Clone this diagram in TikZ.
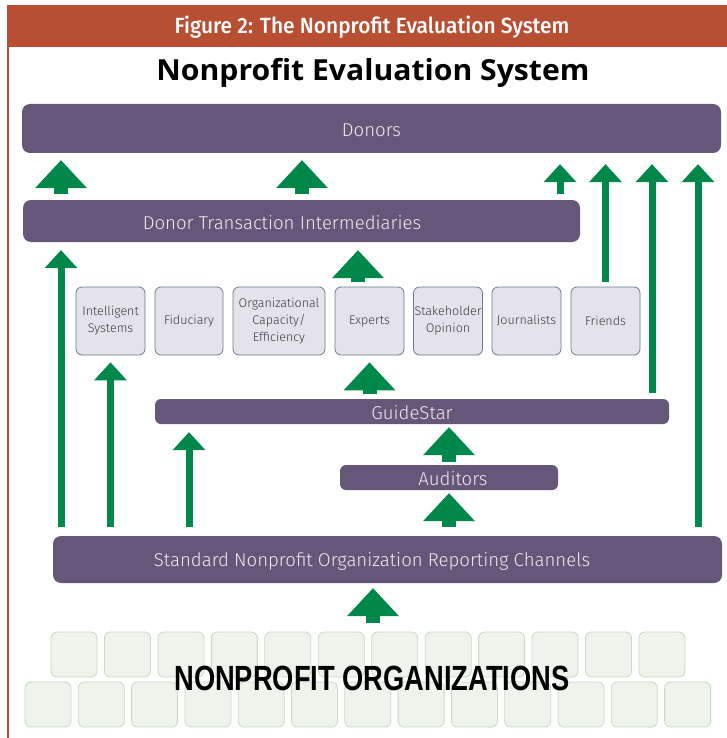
\documentclass[tikz,border=0pt]{standalone}
\usepackage{fontspec}
\setmainfont{Fira Sans}
\newfontfamily\lightfont{Fira Sans}[UprightFont=* Light]
\newfontfamily\medfont{Fira Sans}[UprightFont=* Medium]
\newfontfamily\titlefont{Open Sans}
\newfontfamily\orgfont{Liberation Sans}
\usetikzlibrary{arrows.meta}

\definecolor{bandcol}{HTML}{B84F32}
\definecolor{barcol}{HTML}{65567A}
\definecolor{bartext}{HTML}{ECEAF0}
\definecolor{boxfill}{HTML}{E4E3EA}
\definecolor{boxline}{HTML}{6A7A95}
\definecolor{boxtext}{HTML}{3A3A3A}
\definecolor{arrowgreen}{HTML}{00884A}
\definecolor{orgfill}{HTML}{EEF3EC}
\definecolor{orgline}{HTML}{C3DCC0}

\tikzset{
  bar/.style={fill=barcol, rounded corners=8pt, inner sep=0pt},
  bartxt/.style={text=bartext, yshift=-1.5pt, font=\lightfont\fontsize{18.6}{18.6}\selectfont},
  evbox/.style={draw=boxline, fill=boxfill, line width=0.8pt, rounded corners=6pt,
    minimum width=69pt, minimum height=68pt, inner sep=1pt, align=center,
    text=boxtext, font=\lightfont\fontsize{12.5}{17}\selectfont},
  orgbox/.style={draw=orgline, fill=orgfill, line width=0.8pt, rounded corners=6pt,
    minimum width=46pt, minimum height=45pt},
  bigarrow/.style={draw=arrowgreen, line width=14pt,
    -{Triangle[width=52pt,length=28pt,line width=0pt]}},
  thinarrow/.style={draw=arrowgreen, line width=7pt,
    -{Triangle[width=33pt,length=18pt,line width=0pt]}}
}

\begin{document}
\begin{tikzpicture}[x=1pt,y=-1pt]
        % 背景と枠
        \useasboundingbox (0,0) rectangle (727,738);
        \fill[white] (0,0) rectangle (727,738);
        \fill[bandcol] (7,5) rectangle (727,47);
        \draw[bandcol, line width=1.5pt] (8,47)--(8,738);

        % 見出し
        \node[text=white, font=\medfont\fontsize{22}{22}\selectfont] (fig) at (372,27)
          {\scalebox{0.95}[1]{Figure 2: The Nonprofit Evaluation System}};
        \node[font=\titlefont\bfseries\fontsize{29}{29}\selectfont] (title) at (373,73)
          {\scalebox{1.04}[1]{Nonprofit Evaluation System}};

        % 帯
        \node[bar, minimum width=699pt, minimum height=49pt, label={[bartxt]center:Donors}] (donors) at (371.5,128.5) {};
        \node[bar, minimum width=557pt, minimum height=42pt,
          label={[bartxt, xshift=-19.5pt]center:Donor Transaction Intermediaries}] (dti) at (301.5,221) {};
        \node[bar, rounded corners=6pt, minimum width=514pt, minimum height=25pt,
          label={[bartxt]center:GuideStar}] (guide) at (412,411.5) {};
        \node[bar, rounded corners=6pt, minimum width=218pt, minimum height=25pt,
          label={[bartxt, xshift=4pt]center:Auditors}] (auditors) at (449,477.5) {};
        \node[bar, minimum width=669pt, minimum height=47pt,
          label={[bartxt, xshift=-15.5pt]center:Standard Nonprofit Organization Reporting Channels}] (std) at (387.5,559.5) {};

        % 評価の箱
        \node[evbox] (intel) at (110.5,321) {Intelligent\\Systems};
        \node[evbox, minimum width=68pt] (fidu) at (189,321) {Fiduciary};
        \node[evbox, minimum width=92pt] (capa) at (279,321) {Organizational\\Capacity/\\Efficiency};
        \node[evbox] (experts) at (369.5,321) {Experts};
        \node[evbox, minimum width=68pt] (stake) at (448,321) {Stakeholder\\Opinion};
        \node[evbox] (journ) at (526.5,321) {Journalists};
        \node[evbox] (friends) at (605.5,321) {Friends};

        % 団体
        \foreach \i in {0,...,11}
          \node[orgbox] (org-\i) at ({74+53.45*\i},654.5) {};
        \foreach \i in {0,...,12}
          \node[orgbox] (orgb-\i) at ({48+53.3*\i},704.5) {};
        \node[font=\orgfont\bfseries\fontsize{35}{35}\selectfont] (orgs) at (372,678)
          {\scalebox{0.78}[1]{NONPROFIT ORGANIZATIONS}};

        % 矢印
        \draw[bigarrow, shorten <=6pt, shorten >=7pt] (dti.north -| 61,0)--(donors.south -| 61,0);
        \draw[bigarrow, shorten <=6pt, shorten >=7pt] (dti.north -| 302,0)--(donors.south -| 302,0);
        \draw[thinarrow, shorten <=6pt, shorten >=11pt] (dti.north -| 560,0)--(donors.south -| 560,0);
        \draw[thinarrow, shorten <=5pt, shorten >=11pt] (friends.north)--(donors.south -| friends.north);
        \draw[thinarrow, shorten <=6pt, shorten >=11pt] (guide.north -| 652,0)--(donors.south -| 652,0);
        \draw[thinarrow, shorten <=9pt, shorten >=11pt] (std.north -| 698,0)--(donors.south -| 698,0);

        \draw[thinarrow, shorten <=9pt, shorten >=8pt] (std.north -| 61,0)--(dti.south -| 61,0);
        \draw[bigarrow, shorten <=5pt, shorten >=8pt] (experts.north -| 358,0)--(dti.south -| 358,0);
        \draw[thinarrow, shorten <=9pt, shorten >=7pt] (std.north -| intel.south)--(intel.south);
        \draw[bigarrow, shorten <=5pt, shorten >=7pt] (guide.north -| experts.south)--(experts.south);
        \draw[thinarrow, shorten <=9pt, shorten >=8pt] (std.north -| 189,0)--(guide.south -| 189,0);
        \draw[bigarrow, shorten <=3pt, shorten >=3pt] (auditors.north)--(guide.south -| auditors.north);
        \draw[bigarrow, shorten <=9pt, shorten >=3pt] (std.north -| auditors.south)--(auditors.south);
        \draw[bigarrow, shorten <=9pt, shorten >=5pt] (org-6.north -| 373,0)--(std.south -| 373,0);
      \end{tikzpicture}
\end{document}
